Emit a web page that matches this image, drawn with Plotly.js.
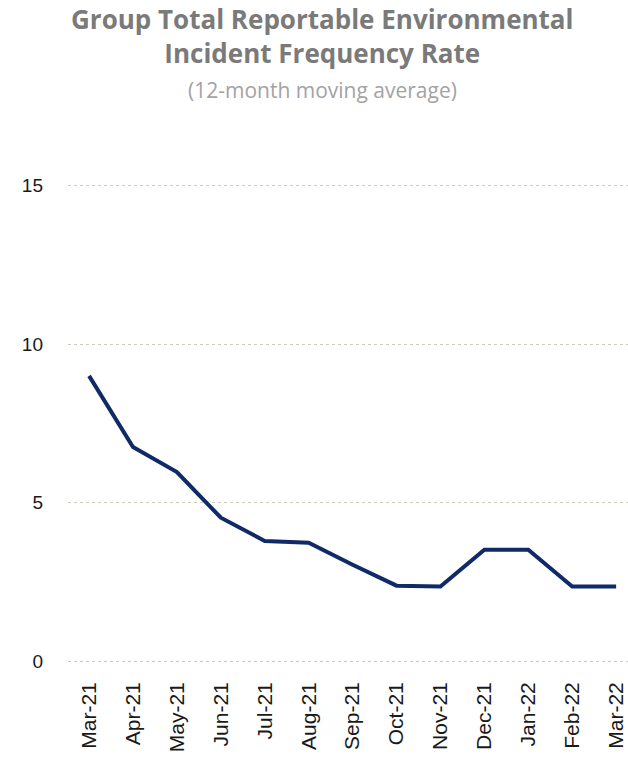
<!DOCTYPE html>
<html>
<head>
<meta charset="utf-8">
<script src="https://cdn.plot.ly/plotly-3.0.1.min.js"></script>
<style>
  html, body { margin: 0; padding: 0; background: #fff; }
  #plot { width: 628px; height: 757px; }
</style>
</head>
<body>
<div id="plot"></div>
<script>
// months (x categories)
const months = ['Mar-21', 'Apr-21', 'May-21', 'Jun-21', 'Jul-21', 'Aug-21', 'Sep-21',
  'Oct-21', 'Nov-21', 'Dec-21', 'Jan-22', 'Feb-22', 'Mar-22'];
// 12-month moving average rate
const rateValues = [9.0, 6.76, 5.97, 4.53, 3.8, 3.74, 3.05, 2.39, 2.36, 3.52, 3.52, 2.36, 2.36];
const yTicks = [0, 5, 10, 15];

const trace = {
  x: months,
  y: rateValues,
  type: 'scatter',
  mode: 'lines',
  line: { color: '#0f2a66', width: 4 },
  hoverinfo: 'skip'
};

const layout = {
  width: 628,
  height: 757,
  margin: { l: 68, r: 0, t: 176, b: 86 },
  paper_bgcolor: '#ffffff',
  plot_bgcolor: '#ffffff',
  showlegend: false,
  font: { family: 'Liberation Sans, Arial, sans-serif', color: '#1a1a1a' },
  xaxis: {
    type: 'category',
    range: [-0.48, 12.27],
    tickangle: -90,
    tickfont: { size: 21, color: '#1a1a1a' },
    showgrid: false,
    zeroline: false,
    showline: false,
    ticks: '',
    ticklabelstandoff: 6
  },
  yaxis: {
    range: [-0.3, 15.3],
    tickvals: yTicks,
    ticktext: yTicks.map(String),
    tickfont: { size: 19, color: '#1a1a1a' },
    showgrid: true,
    gridcolor: '#cfcac0',
    griddash: 'dot',
    gridwidth: 1,
    zeroline: false,
    showline: false,
    ticks: '',
    ticklabelstandoff: 24
  },
  annotations: [
    {
      text: '<b>Group Total Reportable Environmental<br>Incident Frequency Rate</b>',
      xref: 'paper', yref: 'paper', x: 0.454, y: 1, yshift: 177,
      xanchor: 'center', yanchor: 'top', showarrow: false,
      font: { family: 'Open Sans, sans-serif', size: 26, color: '#7a7a7a' },
      align: 'center'
    },
    {
      text: '(12-month moving average)',
      xref: 'paper', yref: 'paper', x: 0.454, y: 1, yshift: 102,
      xanchor: 'center', yanchor: 'top', showarrow: false,
      font: { family: 'Open Sans, sans-serif', size: 21, color: '#a3a3a3' }
    }
  ]
};

Plotly.newPlot('plot', [trace], layout, { displayModeBar: false, staticPlot: true });
</script>
</body>
</html>
